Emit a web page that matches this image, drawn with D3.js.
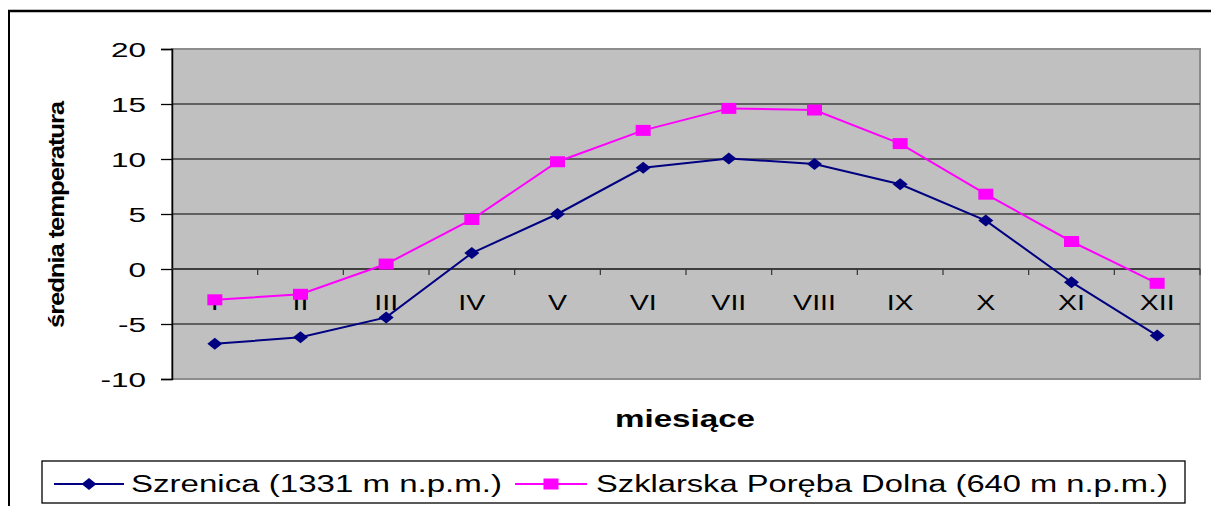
<!DOCTYPE html>
<html>
<head>
<meta charset="utf-8">
<script src="https://cdn.jsdelivr.net/npm/d3@7"></script>
<style>
  html, body { margin: 0; padding: 0; background: #fff; }
  svg { display: block; }
  text { font-family: Arial, "Liberation Sans", sans-serif; fill: #000; }
</style>
</head>
<body>
<div id="chart"></div>
<script>
;(function () {

    // months on the x axis
    var months = ['I', 'II', 'III', 'IV', 'V', 'VI', 'VII', 'VIII', 'IX', 'X', 'XI', 'XII'];

    // mean temperature
    var szrenica = [-6.8, -6.2, -4.4, 1.45, 5.0, 9.2, 10.05, 9.55, 7.7, 4.4, -1.2, -6.05];
    var szklarska = [-2.8, -2.3, 0.45, 4.5, 9.75, 12.6, 14.6, 14.45, 11.4, 6.8, 2.5, -1.3];

    var yTicks = [20, 15, 10, 5, 0, -5, -10];
    var seriesNames = ['Szrenica (1331 m n.p.m.)', 'Szklarska Poręba Dolna (640 m n.p.m.)'];

    var W = 1211, H = 506;
    var plot = { left: 172, right: 1200, top: 49, bottom: 379 };

    var svg = d3.select('#chart').append('svg')
        .attr('width', W)
        .attr('height', H);

    // outer frame (top and left edges visible)
    svg.append('line').attr('x1', 8).attr('x2', W).attr('y1', 11).attr('y2', 11)
        .attr('stroke', '#000').attr('stroke-width', 2.5);
    svg.append('line').attr('x1', 9).attr('x2', 9).attr('y1', 10).attr('y2', H)
        .attr('stroke', '#000').attr('stroke-width', 2);

    var x = d3.scaleBand().domain(months).range([plot.left, plot.right]).paddingInner(0).paddingOuter(0);
    var y = d3.scaleLinear().domain([-10, 20]).range([plot.bottom, plot.top]);

    // plot area
    svg.append('rect')
        .attr('x', plot.left).attr('y', plot.top)
        .attr('width', plot.right - plot.left).attr('height', plot.bottom - plot.top)
        .attr('fill', '#c0c0c0')
        .attr('stroke', '#8c8c8c').attr('stroke-width', 2);

    // gridlines
    svg.selectAll('line.grid')
        .data(yTicks.filter(function (d) { return d !== 20 && d !== -10; }))
        .enter().append('line')
        .attr('class', 'grid')
        .attr('x1', plot.left).attr('x2', plot.right)
        .attr('y1', function (d) { return y(d); })
        .attr('y2', function (d) { return y(d); })
        .attr('stroke', '#404040').attr('stroke-width', 1.5);

    // y axis
    var yAxis = svg.append('g').attr('transform', 'translate(' + plot.left + ',0)')
        .call(d3.axisLeft(y).tickValues(yTicks).tickSize(11).tickFormat(''));
    yAxis.select('.domain').attr('stroke', '#000').attr('stroke-width', 1.5);
    yAxis.selectAll('.tick line').attr('stroke', '#000').attr('stroke-width', 1.3);

    svg.selectAll('text.ylab')
        .data(yTicks)
        .enter().append('text')
        .attr('class', 'ylab')
        .attr('text-anchor', 'end')
        .attr('font-size', 21)
        .attr('transform', function (d) { return 'translate(146,' + (y(d) + 7.5) + ') scale(1.5,1)'; })
        .text(function (d) { return d; });

    // x axis at zero with ticks between categories
    var bounds = d3.range(months.length + 1).map(function (i) { return plot.left + i * x.step(); });
    svg.append('line')
        .attr('x1', plot.left).attr('x2', plot.right)
        .attr('y1', y(0)).attr('y2', y(0))
        .attr('stroke', '#333').attr('stroke-width', 1.5);
    svg.selectAll('line.xtick')
        .data(bounds.slice(1))
        .enter().append('line')
        .attr('class', 'xtick')
        .attr('x1', function (d) { return d; }).attr('x2', function (d) { return d; })
        .attr('y1', y(0)).attr('y2', y(0) + 6)
        .attr('stroke', '#333').attr('stroke-width', 1.2);

    svg.selectAll('text.xlab')
        .data(months)
        .enter().append('text')
        .attr('class', 'xlab')
        .attr('text-anchor', 'middle')
        .attr('font-size', 22)
        .attr('transform', function (d) { return 'translate(' + (x(d) + x.bandwidth() / 2) + ',310) scale(1.3,1)'; })
        .text(function (d) { return d; });

    // series
    var series = [
        { name: seriesNames[0], values: szrenica, color: '#000080', marker: 'diamond' },
        { name: seriesNames[1], values: szklarska, color: '#ff00ff', marker: 'square' }
    ];

    function markerPath(type, cx, cy) {
        if (type === 'diamond') {
            return 'M' + (cx - 7.5) + ',' + cy + 'L' + cx + ',' + (cy - 6) +
                'L' + (cx + 7.5) + ',' + cy + 'L' + cx + ',' + (cy + 6) + 'Z';
        }
        return 'M' + (cx - 7.5) + ',' + (cy - 5.5) + 'h15v11h-15Z';
    }

    var line = d3.line()
        .x(function (d, i) { return x(months[i]) + x.bandwidth() / 2; })
        .y(function (d) { return y(d); });

    series.forEach(function (s) {
        svg.append('path')
            .attr('d', line(s.values))
            .attr('fill', 'none')
            .attr('stroke', s.color)
            .attr('stroke-width', 2);
        svg.selectAll(null)
            .data(s.values)
            .enter().append('path')
            .attr('d', function (d, i) { return markerPath(s.marker, x(months[i]) + x.bandwidth() / 2, y(d)); })
            .attr('fill', s.color);
    });

    // axis titles
    svg.append('text')
        .attr('transform', 'translate(64,215) rotate(-90)')
        .attr('text-anchor', 'middle')
        .attr('font-size', 22)
        .attr('font-weight', 'bold')
        .attr('letter-spacing', -1)
        .attr('textLength', 226)
        .attr('lengthAdjust', 'spacingAndGlyphs')
        .text('średnia temperatura');

    svg.append('text')
        .attr('x', 685).attr('y', 427)
        .attr('text-anchor', 'middle')
        .attr('font-size', 24)
        .attr('font-weight', 'bold')
        .attr('textLength', 140)
        .attr('lengthAdjust', 'spacingAndGlyphs')
        .text('miesiące');

    // legend
    var legend = svg.append('g');
    legend.append('rect')
        .attr('x', 42).attr('y', 461).attr('width', 1143).attr('height', 42)
        .attr('fill', '#fff').attr('stroke', '#000').attr('stroke-width', 1.3);

    var legendItems = [
        { s: series[0], x0: 54, x1: 124, tx: 131, tl: 371 },
        { s: series[1], x0: 515, x1: 587, tx: 596, tl: 572 }
    ];
    legendItems.forEach(function (it) {
        legend.append('line')
            .attr('x1', it.x0).attr('x2', it.x1).attr('y1', 484).attr('y2', 484)
            .attr('stroke', it.s.color).attr('stroke-width', 2);
        legend.append('path')
            .attr('d', markerPath(it.s.marker, (it.x0 + it.x1) / 2, 484))
            .attr('fill', it.s.color);
        legend.append('text')
            .attr('x', it.tx).attr('y', 492)
            .attr('font-size', 23)
            .attr('textLength', it.tl)
            .attr('lengthAdjust', 'spacingAndGlyphs')
            .text(it.s.name);
    });

})();
</script>
</body>
</html>
